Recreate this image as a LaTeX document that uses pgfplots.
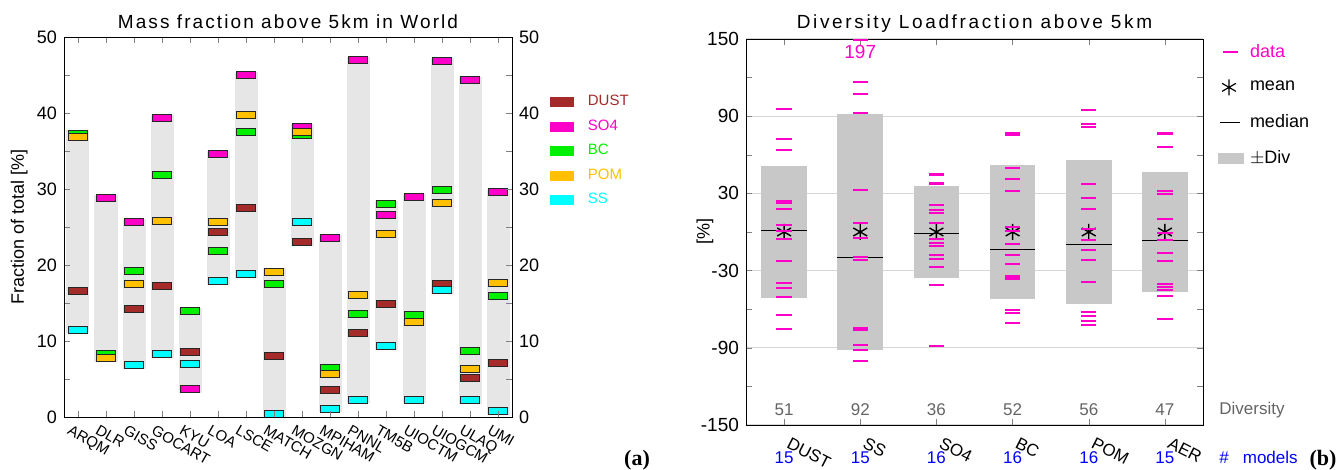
\documentclass[border=0pt]{standalone}
\usepackage{pgfplots}
\pgfplotsset{compat=1.18}
\usepackage{pgfplotstable}
\usepackage{fontspec}
\setmainfont{Liberation Sans}
\newfontfamily\titlefont[LetterSpace=11]{Liberation Sans}
\newfontfamily\titlefontb[LetterSpace=14]{Liberation Sans}
\newfontfamily\serifb{Liberation Serif}
\definecolor{cdust}{RGB}{165,42,42}
\definecolor{cso4}{RGB}{255,0,200}
\definecolor{cbc}{RGB}{0,240,0}
\definecolor{cpom}{RGB}{255,192,0}
\definecolor{css}{RGB}{0,255,255}
\definecolor{lgray}{RGB}{230,230,230}
\definecolor{dgray}{RGB}{200,200,200}
\definecolor{gridgray}{RGB}{215,215,215}
\definecolor{tgray}{RGB}{100,100,100}
\definecolor{mblue}{RGB}{0,0,255}
\pgfdeclareplotmark{rect}{%
  \pgfpathrectangle{\pgfpoint{-4.75pt}{-1.75pt}}{\pgfpoint{9.5pt}{3.5pt}}%
  \pgfusepathqfillstroke}

\pgfplotstableread{
x y
0 16.6
2 14.2
3 17.2
4 8.6
5 24.3
6 27.5
7 8.0
8 23.0
9 3.5
10 11.0
11 14.9
13 17.5
14 5.1
15 7.1
}\dust
\pgfplotstableread{
x y
1 28.8
2 25.6
3 39.3
4 3.7
5 34.6
6 45.0
8 38.1
9 23.6
10 47.0
11 26.6
12 28.9
13 46.8
14 44.3
15 29.6
}\sofour
\pgfplotstableread{
x y
0 37.3
1 8.3
2 19.2
3 31.8
4 13.9
5 21.9
6 37.5
7 17.5
8 37.1
9 6.4
10 13.5
11 28.0
12 13.4
13 29.9
14 8.7
15 15.9
}\bc
\pgfplotstableread{
x y
0 36.9
1 7.7
2 17.5
3 25.8
5 25.7
6 39.7
7 19.1
8 37.5
9 5.7
10 16.1
11 24.1
12 12.5
13 28.1
14 6.3
15 17.6
}\pom
\pgfplotstableread{
x y
0 11.5
2 6.8
3 8.3
4 7.0
5 17.9
6 18.8
7 0.35
8 25.7
9 1.1
10 2.3
11 9.3
12 2.3
13 16.7
14 2.2
15 0.8
}\ss
% gray range per model: centre and half height
\pgfplotstableread{
x mid half
0 24.35 13.35
1 18.2 11.0
2 16.15 9.85
3 23.75 15.95
4 8.8 5.6
5 26.2 8.8
6 31.85 13.55
7 9.8 9.8
8 30.5 8.0
9 12.3 11.7
10 24.6 22.8
11 18.6 9.8
12 15.55 13.75
13 31.7 15.5
14 23.2 21.5
15 15.15 14.85
}\ranges
% right panel
\pgfplotstableread{
x div med
0 51 1
1 92 -19.6
2 36 -1
3 52 -13.7
4 56 -10
5 47 -6.4
}\divs
% model values per species
\pgfplotstableread{
x y
0 95.3
0 72.3
0 63.7
0 24.1
0 22.3
0 17.9
0 5.5
0 1.0
0 -5.4
0 -22.3
0 -39.4
0 -43.5
0 -50.2
0 -64.7
0 -75.6
}\ddust
\pgfplotstableread{
x y
1 149.6
1 116.3
1 107.2
1 92.2
1 32.4
1 7.3
1 -4.6
1 -19.7
1 -21.5
1 -75.0
1 -75.5
1 -76.0
1 -88.0
1 -91.7
1 -100.0
}\dss
\pgfplotstableread{
x y
2 45.1
2 44.3
2 38.3
2 37.0
2 21.3
2 17.1
2 15.0
2 7.0
2 -5.7
2 -8.8
2 -10.6
2 -17.9
2 -21.0
2 -26.9
2 -41.2
2 -88.6
}\dsofour
\pgfplotstableread{
x y
3 77.0
3 75.4
3 50.0
3 41.0
3 32.0
3 4.0
3 0.5
3 -9.5
3 -17.9
3 -25.1
3 -34.5
3 -35.5
3 -36.5
3 -60.6
3 -63.0
3 -71.0
}\dbc
\pgfplotstableread{
x y
4 94.8
4 83.9
4 81.3
4 37.3
4 26.2
4 17.9
4 2.0
4 -6.2
4 -14.0
4 -21.7
4 -38.8
4 -62.0
4 -65.5
4 -69.0
4 -72.0
}\dpom
\pgfplotstableread{
x y
5 76.7
5 75.9
5 66.3
5 32.1
5 29.5
5 10.4
5 -0.5
5 -6.2
5 -16.6
5 -22.8
5 -40.4
5 -42.5
5 -45.1
5 -49.7
5 -67.8
}\daer

\begin{document}
\begin{tikzpicture}
\useasboundingbox (0,0) rectangle (671pt,235pt);
% ---------------- panel (a)
\begin{axis}[
  at={(32pt,26.5pt)}, anchor=south west, scale only axis,
  width=224pt, height=190pt,
  xmin=-0.5, xmax=15.5, ymin=0, ymax=50,
  xtick={0,...,15},
  xticklabels={ARQM,DLR,GISS,GOCART,KYU,LOA,LSCE,MATCH,MOZGN,MPIHAM,PNNL,TM5B,UIOCTM,UIOGCM,ULAQ,UMI},
  yticklabel style={font=\fontsize{9}{10}\selectfont},
  xticklabel style={font=\fontsize{7.5}{9}\selectfont, xshift=-3.5pt, yshift=-2pt, rotate=-30, anchor=north west, inner sep=1pt},
  ytick={0,10,...,50}, minor y tick num=1,
  /pgf/number format/assume math mode=true,
  tick align=inside, major tick length=3pt, minor tick length=3pt,
  xtick pos=both, ytick pos=both, yticklabel pos=left,
  axis on top, clip mode=individual,
  title={Mass fraction above 5km in World},
  title style={at={(0.5,1)}, anchor=base, yshift=-1.5pt, font=\titlefont\fontsize{9.5}{11}\selectfont},
  ylabel={Fraction of total [\%]},
  ylabel style={at={(axis description cs:-0.1,0.5)}, anchor=center, font=\fontsize{9}{10}\selectfont},
  legend style={at={(axis description cs:1.0845,0.855)}, anchor=north west, draw=none, fill=none,
    inner sep=0pt, outer sep=0pt, row sep=2.25pt, nodes={inner sep=1pt},
    font=\fontsize{7.5}{9}\selectfont},
  legend cell align=left,
]
\addplot[draw=none, mark=none, forget plot,
  error bars/.cd, y dir=both, y explicit, error mark=none,
  error bar style={draw=lgray, line width=11.5pt}]
  table[x=x, y=mid, y error=half] {\ranges};
\addplot[only marks, mark=rect, mark options={fill=cdust, draw=black!85, line width=0.5pt},
  legend image code/.code={\fill[cdust, draw=none] (0pt,-2.5pt) rectangle (12pt,2.5pt); \path[draw=none, fill=none] (0pt,-5pt) rectangle (18pt,5pt);}]
  table {\dust};
\addlegendentry{\textcolor{cdust}{DUST}}
\addplot[only marks, mark=rect, mark options={fill=cso4, draw=black!85, line width=0.5pt},
  legend image code/.code={\fill[cso4, draw=none] (0pt,-2.5pt) rectangle (12pt,2.5pt); \path[draw=none, fill=none] (0pt,-5pt) rectangle (18pt,5pt);}]
  table {\sofour};
\addlegendentry{\textcolor{cso4}{SO4}}
\addplot[only marks, mark=rect, mark options={fill=cbc, draw=black!85, line width=0.5pt},
  legend image code/.code={\fill[cbc, draw=none] (0pt,-2.5pt) rectangle (12pt,2.5pt); \path[draw=none, fill=none] (0pt,-5pt) rectangle (18pt,5pt);}]
  table {\bc};
\addlegendentry{\textcolor{cbc}{BC}}
\addplot[only marks, mark=rect, mark options={fill=cpom, draw=black!85, line width=0.5pt},
  legend image code/.code={\fill[cpom, draw=none] (0pt,-2.5pt) rectangle (12pt,2.5pt); \path[draw=none, fill=none] (0pt,-5pt) rectangle (18pt,5pt);}]
  table {\pom};
\addlegendentry{\textcolor{cpom}{POM}}
\addplot[only marks, mark=rect, mark options={fill=css, draw=black!85, line width=0.5pt},
  legend image code/.code={\fill[css, draw=none] (0pt,-2.5pt) rectangle (12pt,2.5pt); \path[draw=none, fill=none] (0pt,-5pt) rectangle (18pt,5pt);}]
  table {\ss};
\addlegendentry{\textcolor{css}{SS}}
\node[font=\serifb\bfseries\fontsize{11}{12}\selectfont] at (axis description cs:1.279,-0.113) {(a)};
\end{axis}
% right-hand tick labels of panel (a)
\begin{axis}[
  at={(32pt,26.5pt)}, anchor=south west, scale only axis,
  width=224pt, height=190pt,
  xmin=-0.5, xmax=15.5, ymin=0, ymax=50,
  xtick=\empty, ytick={0,10,...,50},
  yticklabel pos=right, ytick pos=right,
  axis line style={draw=none}, major tick style={draw=none},
  tick label style={font=\fontsize{9}{10}\selectfont},
  /pgf/number format/assume math mode=true,
]
\addplot[draw=none, forget plot] coordinates {(0,0)};
\end{axis}
% ---------------- panel (b)
\begin{axis}[
  at={(373pt,22.5pt)}, anchor=south west, scale only axis,
  width=228.5pt, height=193pt,
  xmin=-0.5, xmax=5.5, ymin=-150, ymax=150,
  xtick={0,...,5}, xticklabels={DUST,SS,SO4,BC,POM,AER},
  yticklabel style={font=\fontsize{9.5}{11}\selectfont},
  xticklabel style={font=\fontsize{8.5}{10}\selectfont, xshift=3pt, yshift=-4.5pt, rotate=-27, anchor=north west, inner sep=1pt},
  ytick={-150,-90,-30,30,90,150}, minor ytick={-120,-60,0,60,120},
  ymajorgrids, major grid style={color=gridgray, line width=0.6pt},
  /pgf/number format/assume math mode=true,
  tick align=inside, major tick length=3pt, minor tick length=3pt,
  xtick pos=both, ytick pos=both, yticklabel pos=left,
  clip mode=individual,
  title={Diversity Loadfraction above 5km},
  title style={at={(0.5,1)}, anchor=base, yshift=-1pt, font=\titlefontb\fontsize{9.5}{11}\selectfont},
  ylabel={[\%]},
  ylabel style={at={(axis description cs:-0.0897,0.5)}, anchor=center, font=\fontsize{9}{10}\selectfont},
  legend style={at={(axis description cs:1.0328,0.9922)}, anchor=north west, draw=none, fill=none,
    inner sep=0pt, outer sep=0pt, row sep=7.65pt, nodes={inner sep=1pt},
    font=\fontsize{9}{11}\selectfont},
  legend cell align=left,
]
\addlegendimage{legend image code/.code={\draw[cso4, line width=0.8pt] (2.5pt,0pt) -- (10pt,0pt); \path[draw=none, fill=none] (0pt,-5pt) rectangle (15pt,5pt);}}
\addlegendentry{\textcolor{cso4}{data}}
\addlegendimage{legend image code/.code={\draw[black, line width=0.6pt, mark=asterisk, mark size=4pt] plot coordinates {(5.5pt,0pt)}; \path[draw=none, fill=none] (0pt,-5pt) rectangle (15pt,5pt);}}
\addlegendentry{mean}
\addlegendimage{legend image code/.code={\draw[black, line width=0.7pt] (1pt,0pt) -- (11pt,0pt); \path[draw=none, fill=none] (0pt,-5pt) rectangle (15pt,5pt);}}
\addlegendentry{median}
\addlegendimage{legend image code/.code={\fill[dgray, draw=none] (0pt,-2.75pt) rectangle (13pt,2.75pt); \path[draw=none, fill=none] (0pt,-5pt) rectangle (15pt,5pt);}}
\addlegendentry{$\pm$Div}
\addplot[draw=none, mark=none, forget plot,
  error bars/.cd, y dir=both, y explicit, error mark=none,
  error bar style={draw=dgray, line width=22.85pt}]
  table[x=x, y expr=0, y error=div] {\divs};
\addplot[draw=none, mark=none, forget plot,
  error bars/.cd, x dir=both, x fixed=0.3, error mark=none,
  error bar style={draw=black, line width=0.6pt}]
  table[x=x, y=med] {\divs};
\addplot[only marks, mark=asterisk, mark size=4pt, color=black, mark options={line width=0.7pt}, forget plot]
  table[x=x, y expr=0] {\divs};
\addplot[only marks, mark=-, mark size=3.8pt, draw=cso4, color=cso4, mark options={draw=cso4, line width=1pt}, forget plot] table {\ddust};
\addplot[only marks, mark=-, mark size=3.8pt, draw=cso4, color=cso4, mark options={draw=cso4, line width=1pt}, forget plot] table {\dss};
\addplot[only marks, mark=-, mark size=3.8pt, draw=cso4, color=cso4, mark options={draw=cso4, line width=1pt}, forget plot] table {\dsofour};
\addplot[only marks, mark=-, mark size=3.8pt, draw=cso4, color=cso4, mark options={draw=cso4, line width=1pt}, forget plot] table {\dbc};
\addplot[only marks, mark=-, mark size=3.8pt, draw=cso4, color=cso4, mark options={draw=cso4, line width=1pt}, forget plot] table {\dpom};
\addplot[only marks, mark=-, mark size=3.8pt, draw=cso4, color=cso4, mark options={draw=cso4, line width=1pt}, forget plot] table {\daer};
\node[cso4, font=\fontsize{9.5}{11}\selectfont] at (axis cs:1,140) {197};
\node[tgray, font=\fontsize{8.5}{10}\selectfont] at (axis cs:0,-138.3) {51};
\node[tgray, font=\fontsize{8.5}{10}\selectfont] at (axis cs:1,-138.3) {92};
\node[tgray, font=\fontsize{8.5}{10}\selectfont] at (axis cs:2,-138.3) {36};
\node[tgray, font=\fontsize{8.5}{10}\selectfont] at (axis cs:3,-138.3) {52};
\node[tgray, font=\fontsize{8.5}{10}\selectfont] at (axis cs:4,-138.3) {56};
\node[tgray, font=\fontsize{8.5}{10}\selectfont] at (axis cs:5,-138.3) {47};
\node[tgray, anchor=west, inner sep=0pt, font=\fontsize{8.5}{10}\selectfont] at (axis cs:5.71,-138.3) {Diversity};
\node[mblue, font=\fontsize{8.5}{10}\selectfont] at (axis cs:0,-175.4) {15};
\node[mblue, font=\fontsize{8.5}{10}\selectfont] at (axis cs:1,-175.4) {15};
\node[mblue, font=\fontsize{8.5}{10}\selectfont] at (axis cs:2,-175.4) {16};
\node[mblue, font=\fontsize{8.5}{10}\selectfont] at (axis cs:3,-175.4) {16};
\node[mblue, font=\fontsize{8.5}{10}\selectfont] at (axis cs:4,-175.4) {16};
\node[mblue, font=\fontsize{8.5}{10}\selectfont] at (axis cs:5,-175.4) {15};
\node[mblue, anchor=west, inner sep=0pt, font=\fontsize{8.5}{10}\selectfont] at (axis cs:5.71,-175.4) {\#\hspace{7pt}models};
\node[font=\serifb\bfseries\fontsize{11}{12}\selectfont] at (axis description cs:1.2626,-0.0907) {(b)};
\end{axis}
\end{tikzpicture}
\end{document}
